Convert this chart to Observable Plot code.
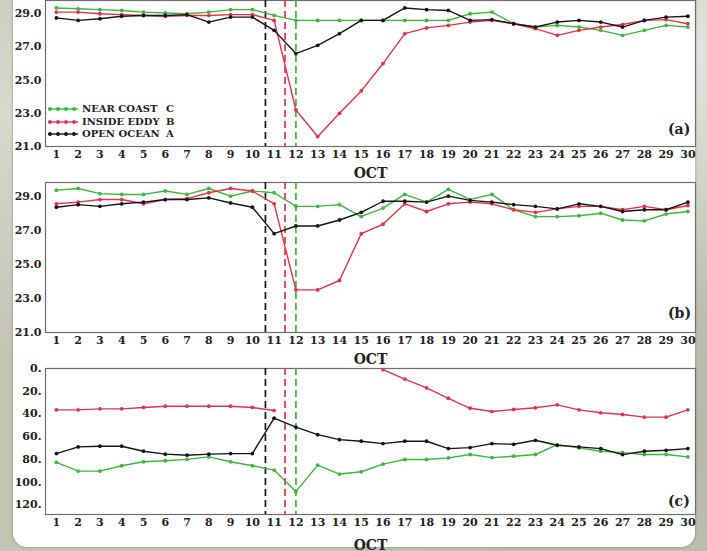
<!DOCTYPE html>
<html><head><meta charset="utf-8">
<script src="https://cdn.jsdelivr.net/npm/d3@7"></script>
<script src="https://cdn.jsdelivr.net/npm/@observablehq/plot@0.6"></script>
<style>
html,body{margin:0;padding:0;width:707px;height:551px;overflow:hidden;}
body{position:relative;font-family:"DejaVu Serif",serif;
 background:
  radial-gradient(ellipse at 2% 20%, #d6d9cc 0%, rgba(214,217,204,0) 40%),
  radial-gradient(ellipse at 99% 10%, #e2e3db 0%, rgba(226,227,219,0) 35%),
  radial-gradient(ellipse at 98% 80%, #b6b9a6 0%, rgba(182,185,166,0) 40%),
  #c2c5b3;}
.card{position:absolute;left:13px;top:-14px;width:682px;height:561px;background:#fff;border-radius:14px;box-shadow:0 0 3px rgba(60,60,50,.45);}
.panel{position:absolute;left:0;width:707px;}
.panel svg{overflow:visible;}
.panel svg g[aria-label="x-axis label"] text{font-size:14px;font-weight:bold;}
.plabel{position:absolute;font-size:14px;font-weight:bold;color:#222;}
.legend{position:absolute;left:47px;top:103px;font-size:10px;font-weight:bold;color:#222;}
.legend .row{position:relative;height:12.5px;line-height:12.5px;white-space:nowrap;}
.legend svg{position:absolute;left:0;top:1px;}
.legend .nm{position:absolute;left:35px;}
.legend .lt{position:absolute;left:119px;}
</style>
</head><body>
<div class="card"></div>
<div id="pa" class="panel" style="top:0px"></div>
<div id="pb" class="panel" style="top:175px"></div>
<div id="pc" class="panel" style="top:360px"></div>
<div class="legend" id="legend"></div>
<div class="plabel" style="left:668px;top:121px">(a)</div>
<div class="plabel" style="left:668px;top:305px">(b)</div>
<div class="plabel" style="left:668px;top:493px">(c)</div>
<script>
const days = [1,2,3,4,5,6,7,8,9,10,11,12,13,14,15,16,17,18,19,20,21,22,23,24,25,26,27,28,29,30];
const seriesNames = ["NEAR COAST","INSIDE EDDY","OPEN OCEAN"];
const seriesLetters = ["C","B","A"];
const seriesColors = ["#3cb83c","#e5324c","#151515"];

// (a)
const aGreen = [29.35,29.3,29.25,29.2,29.1,29.05,29.0,29.1,29.25,29.25,28.9,28.6,28.6,28.6,28.6,28.6,28.6,28.6,28.6,29.0,29.1,28.4,28.2,28.3,28.2,28.0,27.7,28.0,28.3,28.2];
const aRed   = [29.1,29.1,29.0,28.95,28.9,28.85,28.9,28.9,28.95,28.95,28.6,23.2,21.6,23.0,24.35,26.0,27.8,28.15,28.3,28.5,28.6,28.4,28.1,27.7,28.0,28.2,28.35,28.6,28.65,28.4];
const aBlack = [28.75,28.6,28.7,28.85,28.9,28.9,28.95,28.5,28.8,28.8,28.0,26.6,27.1,27.8,28.6,28.6,29.35,29.25,29.2,28.6,28.65,28.4,28.2,28.5,28.6,28.5,28.2,28.6,28.8,28.85];
// (b)
const bGreen = [29.35,29.45,29.15,29.1,29.1,29.3,29.1,29.45,29.0,29.3,29.2,28.4,28.4,28.5,27.8,28.3,29.1,28.65,29.4,28.8,29.1,28.2,27.8,27.8,27.85,28.0,27.6,27.55,27.95,28.1];
const bRed   = [28.55,28.65,28.8,28.8,28.55,28.8,28.85,29.2,29.45,29.3,28.55,23.5,23.5,24.05,26.8,27.35,28.55,28.1,28.55,28.65,28.55,28.2,28.05,28.25,28.4,28.4,28.2,28.4,28.2,28.45];
const bBlack = [28.35,28.5,28.4,28.55,28.65,28.8,28.8,28.9,28.6,28.35,26.8,27.25,27.25,27.6,28.05,28.7,28.7,28.65,29.0,28.75,28.65,28.5,28.4,28.25,28.55,28.4,28.1,28.2,28.2,28.65];
// (c)
const cGreen = [82.7,90.3,90.3,85.6,82.1,81.2,80,77.8,82.1,85.6,89.4,108.4,85,92.9,90.9,84.2,80.1,80.1,78.7,75.7,78.4,77.2,75.7,67,69.9,72.8,74,75.7,75.7,77.8];
const cRed   = [36.4,36.4,35.5,35.5,34.3,33.2,33.2,33.2,33.2,34.3,37,null,null,null,null,1,9.3,17.1,26.2,35,37.9,36.1,34.6,32,36.4,39,40.5,42.8,42.8,36.4];
const cBlack = [74.9,69,68.4,68.4,72.8,75.4,76.3,75.4,74.9,74.9,43.7,51.6,58.2,62.6,64,66.1,64,64,70.5,69.6,66.1,66.7,63.2,67.6,69,70.5,75.8,72.8,72,70.5];

const eventDays = [10.6, 11.5, 12];
const eventSeries = ["OPEN OCEAN","INSIDE EDDY","NEAR COAST"];
const tempTicks = [21,23,25,27,29];
const depthTicks = [0,20,40,60,80,100,120];

function tidy(g, r, b){
  const rows = [];
  [g, r, b].forEach((arr, k) => arr.forEach((v, i) => rows.push({day: days[i], value: v, series: seriesNames[k]})));
  return rows;
}
const events = eventDays.map((d, i) => ({day: d, series: eventSeries[i]}));

function panel(el, rows, o){
  const svg = Plot.plot({
    width: 707, height: o.height,
    marginLeft: 45, marginRight: 12, marginTop: o.mt, marginBottom: o.mb,
    style: {background: "transparent", fontFamily: "DejaVu Serif", fontSize: "11px", fontWeight: "bold", color: "#222", overflow: "visible"},
    x: {domain: [0.5, 30.35]},
    y: {domain: o.ydomain, reverse: o.reverse},
    color: {domain: seriesNames, range: seriesColors},
    marks: [
      Plot.frame({stroke: "#6e6e6e", strokeWidth: 1.2}),
      Plot.axisY({ticks: o.yticks, tickSize: 0, tickPadding: 4, tickFormat: o.fmt, label: null}),
      Plot.axisX({ticks: days, tickSize: 0, tickPadding: 4, tickFormat: d => String(d), label: "OCT", labelAnchor: "center", labelArrow: "none", labelOffset: o.lo}),
      Plot.ruleX(events, {x: "day", stroke: "series", strokeDasharray: "7,4", strokeWidth: 1.7}),
      Plot.line(rows, {x: "day", y: "value", z: "series", stroke: "series", strokeWidth: 1.4}),
      Plot.dot(rows, {x: "day", y: "value", fill: "series", r: 1.9})
    ]
  });
  document.getElementById(el).appendChild(svg);
}

panel("pa", tidy(aGreen, aRed, aBlack), {height: 182, mt: 0, mb: 36, ydomain: [21, 29.8], yticks: tempTicks, fmt: d => d.toFixed(1), lo: 31});
panel("pb", tidy(bGreen, bRed, bBlack), {height: 190, mt: 7, mb: 33, ydomain: [21, 29.8], yticks: tempTicks, fmt: d => d.toFixed(1), lo: 31});
panel("pc", tidy(cGreen, cRed, cBlack), {height: 191, mt: 8, mb: 37, ydomain: [0, 128.5], reverse: true, yticks: depthTicks, fmt: d => d + ".", lo: 35});

// legend
const lg = document.getElementById("legend");
seriesNames.forEach((n, i) => {
  const row = document.createElement("div");
  row.className = "row";
  const c = seriesColors[i];
  row.innerHTML = `<svg width="32" height="10"><line x1="1" x2="31" y1="5" y2="5" stroke="${c}" stroke-width="1.4"/>` +
    [3, 11, 19, 27].map(x => `<circle cx="${x}" cy="5" r="1.9" fill="${c}"/>`).join("") +
    `</svg><span class="nm">${n}</span><span class="lt">${seriesLetters[i]}</span>`;
  lg.appendChild(row);
});
</script>
</body></html>
